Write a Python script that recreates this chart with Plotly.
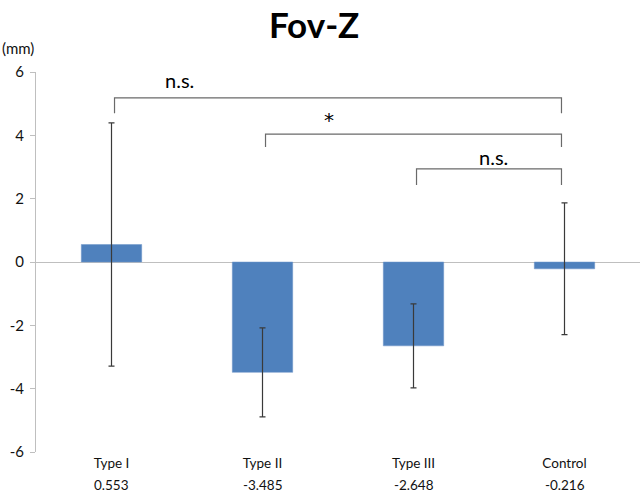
import plotly.graph_objects as go

# Group means and spread of Fov-Z (mm)
categories = ["Type I", "Type II", "Type III", "Control"]
means = [0.553, -3.485, -2.648, -0.216]
errors = [3.84, 1.405, 1.326, 2.08]
y_ticks = [-6, -4, -2, 0, 2, 4, 6]

# Significance brackets: (left group, right group, bar height, leg end, label)
bracket_left = [0, 1, 2]
bracket_right = [3, 3, 3]
bracket_top = [5.18, 4.04, 2.94]
bracket_leg = [4.70, 3.63, 2.43]
bracket_labels = ["n.s.", "*", "n.s."]

FONT = "Lato, Open Sans, sans-serif"
BAR_BLUE = "#4F81BD"
AXIS_GREY = "#BFBFBF"

xpos = list(range(len(categories)))

fig = go.Figure()
fig.add_trace(go.Bar(
    x=xpos,
    y=means,
    marker=dict(color=BAR_BLUE, line=dict(color="#6E95C8", width=0.5)),
    width=0.4,
    error_y=dict(type="data", array=errors, visible=True,
                 color="#3A3A3A", thickness=1.2, width=3),
    hoverinfo="skip",
))

shapes = []
annotations = []
label_x = [0.45, 1.44, 2.53]
label_y = [5.75, 4.50, 3.32]
for i in range(len(bracket_labels)):
    x0 = bracket_left[i] + 0.02
    x1 = bracket_right[i] - 0.02
    top = bracket_top[i]
    leg = bracket_leg[i]
    shapes.append(dict(
        type="path", xref="x", yref="y",
        path=f"M {x0},{leg} L {x0},{top} L {x1},{top} L {x1},{leg}",
        line=dict(color="#6A6A6A", width=1.2),
    ))
    is_star = bracket_labels[i] == "*"
    annotations.append(dict(
        x=label_x[i], y=label_y[i], xref="x", yref="y",
        text=bracket_labels[i], showarrow=False,
        font=dict(family="DejaVu Sans" if is_star else FONT,
                  size=20, color="#000000"),
    ))

# mean values printed under the category names
for i, v in enumerate(means):
    annotations.append(dict(
        x=xpos[i], y=-0.087, xref="x", yref="paper",
        text=f"{v:.3f}", showarrow=False, yanchor="middle",
        font=dict(family=FONT, size=13.5, color="#111111"),
    ))

annotations.append(dict(
    x=-0.03, y=1.063, xref="paper", yref="paper",
    xanchor="center", yanchor="middle",
    text="(mm)", showarrow=False,
    font=dict(family=FONT, size=15, color="#111111"),
))

fig.update_layout(
    width=641, height=493,
    margin=dict(l=36, r=1, t=72, b=41),
    paper_bgcolor="white", plot_bgcolor="white",
    showlegend=False,
    title=dict(text="<b>Fov-Z</b>", x=0.49, xanchor="center", y=0.947, yanchor="middle",
               font=dict(family=FONT, size=35, color="#000000")),
    font=dict(family=FONT, size=13.5, color="#111111"),
    shapes=shapes,
    annotations=annotations,
    xaxis=dict(
        range=[-0.5, 3.5], tickvals=xpos, ticktext=categories,
        showline=False, showgrid=False, zeroline=False, ticks="",
        ticklabelstandoff=1,
    ),
    yaxis=dict(
        range=[-6, 6], tickvals=y_ticks, ticktext=[str(t) for t in y_ticks],
        showline=True, linecolor=AXIS_GREY, linewidth=1,
        ticks="outside", ticklen=5, tickcolor=AXIS_GREY,
        tickfont=dict(size=15),
        showgrid=False,
        zeroline=True, zerolinecolor=AXIS_GREY, zerolinewidth=1.2,
        ticklabelstandoff=3,
    ),
)

fig.write_html("out.html")
